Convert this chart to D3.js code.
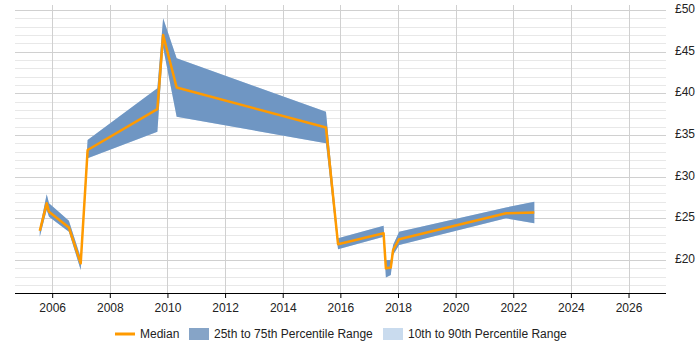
<!DOCTYPE html>
<html>
<head>
<meta charset="utf-8">
<script src="https://cdn.jsdelivr.net/npm/d3@7"></script>
<style>
  html, body { margin: 0; padding: 0; background: #fff; }
  svg { display: block; font-family: "Liberation Sans", Arial, sans-serif; }
</style>
</head>
<body>
<svg id="chart" width="700" height="350"></svg>
<script>
// ---- data ----
const years = [2005.57, 2005.81, 2005.89, 2006.58, 2006.99, 2007.23, 2009.65, 2009.85, 2010.32, 2015.50, 2015.92, 2017.50, 2017.58, 2017.75, 2017.83, 2018.04, 2021.75, 2022.73];
const median = [23.5, 26.8, 25.8, 23.9, 19.6, 33.2, 38.1, 47.0, 40.7, 35.9, 21.9, 23.2, 19.0, 19.1, 21.2, 22.5, 25.6, 25.7];
const p25 = [22.8, 26.0, 25.2, 23.4, 18.8, 32.2, 35.4, 45.5, 37.2, 34.0, 21.3, 22.8, 17.9, 18.2, 20.6, 21.8, 25.0, 24.4];
const p75 = [23.8, 27.9, 26.8, 24.7, 20.3, 34.4, 40.6, 49.0, 44.2, 37.8, 22.6, 24.1, 20.0, 20.0, 21.8, 23.4, 26.3, 27.0];
const p10 = [22.8, 26.0, 25.2, 23.4, 18.8, 32.2, 35.4, 45.5, 37.2, 34.0, 21.3, 22.8, 17.9, 18.2, 20.6, 21.8, 25.0, 24.4];
const p90 = [23.8, 27.9, 26.8, 24.7, 20.3, 34.4, 40.6, 49.0, 44.2, 37.8, 22.6, 24.1, 20.0, 20.0, 21.8, 23.4, 26.3, 27.0];
const xTicks = [2006, 2008, 2010, 2012, 2014, 2016, 2018, 2020, 2022, 2024, 2026];
const yTicks = [20, 25, 30, 35, 40, 45, 50];
const yMinor = d3.range(17, 51, 1);
const legendLabels = ["Median", "25th to 75th Percentile Range", "10th to 90th Percentile Range"];

const rows = years.map((v, i) => ({ x: v, m: median[i], a: p25[i], b: p75[i], c: p10[i], d: p90[i] }));

// ---- layout ----
const pLeft = 15, pRight = 666, pTop = 5, pBottom = 293;
const x = d3.scaleLinear().domain([2004.71, 2027.3]).range([pLeft, pRight]);
const y = d3.scaleLinear().domain([16.04, 50.6]).range([pBottom, pTop]);

const svg = d3.select("#chart");

// gridlines
const g = svg.append("g");
g.selectAll(".ymin").data(yMinor.filter(v => v % 5 !== 0)).enter().append("line")
  .attr("x1", pLeft).attr("x2", pRight)
  .attr("y1", d => Math.round(y(d)) + 0.5).attr("y2", d => Math.round(y(d)) + 0.5)
  .attr("stroke", "#e8e8e8").attr("stroke-width", 1);
g.selectAll(".ymaj").data(yTicks).enter().append("line")
  .attr("x1", pLeft).attr("x2", pRight)
  .attr("y1", d => Math.round(y(d)) + 0.5).attr("y2", d => Math.round(y(d)) + 0.5)
  .attr("stroke", "#d0d0d0").attr("stroke-width", 1);
g.selectAll(".xg").data(xTicks).enter().append("line")
  .attr("x1", d => Math.round(x(d)) + 0.5).attr("x2", d => Math.round(x(d)) + 0.5)
  .attr("y1", pTop).attr("y2", pBottom)
  .attr("stroke", "#d0d0d0").attr("stroke-width", 1);

// bands
const area1090 = d3.area().x(d => x(d.x)).y0(d => y(d.c)).y1(d => y(d.d));
const area2575 = d3.area().x(d => x(d.x)).y0(d => y(d.a)).y1(d => y(d.b));
svg.append("path").datum(rows).attr("d", area1090).attr("fill", "#c9dbee");
svg.append("path").datum(rows).attr("d", area2575).attr("fill", "#6f96c3");

// median
const line = d3.line().x(d => x(d.x)).y(d => y(d.m));
svg.append("path").datum(rows).attr("d", line)
  .attr("fill", "none").attr("stroke", "#ff9a00").attr("stroke-width", 2.5)
  .attr("stroke-linejoin", "round");

// x axis
const xAxis = d3.axisBottom(x).tickValues(xTicks).tickFormat(d3.format("d")).tickSize(5).tickSizeOuter(0);
const xg = svg.append("g").attr("transform", `translate(0,${pBottom})`).call(xAxis);
xg.select(".domain").attr("stroke", "#000").attr("d", `M${pLeft},0.5H${pRight}`);
xg.selectAll(".tick line").attr("stroke", "#000");
xg.selectAll("text").attr("font-size", 12).attr("fill", "#222").attr("dy", "0.9em")
  .attr("font-family", "'Liberation Sans', Arial, sans-serif");

// y axis (right, labels only)
const yAxis = d3.axisRight(y).tickValues(yTicks).tickFormat(d => "£" + d).tickSize(0);
const yg = svg.append("g").attr("transform", `translate(${pRight + 9},0)`).call(yAxis);
yg.select(".domain").remove();
yg.selectAll("text").attr("font-size", 12).attr("fill", "#222").attr("x", 0).attr("dy", "0.2em")
  .attr("font-family", "'Liberation Sans', Arial, sans-serif");

// legend
const lg = svg.append("g").attr("font-size", 12).attr("fill", "#222");
const ly = 334;
lg.append("line").attr("x1", 115).attr("x2", 135).attr("y1", ly).attr("y2", ly)
  .attr("stroke", "#ff9a00").attr("stroke-width", 3);
lg.append("text").attr("x", 140).attr("y", ly).attr("dy", "0.35em").text(legendLabels[0]);
lg.append("rect").attr("x", 189).attr("y", ly - 6).attr("width", 20).attr("height", 12).attr("fill", "#86a4c7");
lg.append("text").attr("x", 214).attr("y", ly).attr("dy", "0.35em").text(legendLabels[1]);
lg.append("rect").attr("x", 383).attr("y", ly - 6).attr("width", 20).attr("height", 12).attr("fill", "#c9dbee");
lg.append("text").attr("x", 408).attr("y", ly).attr("dy", "0.35em").text(legendLabels[2]);
</script>
</body>
</html>
